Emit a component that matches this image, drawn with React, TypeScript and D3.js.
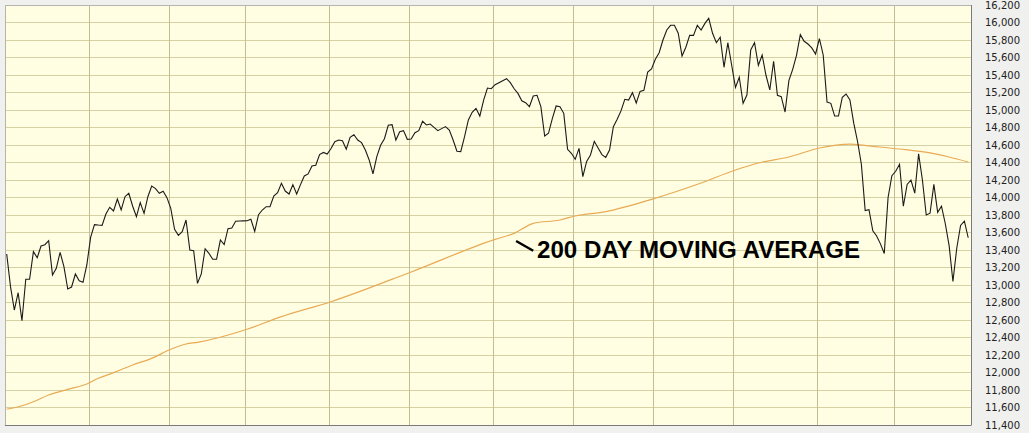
import React from 'react';
import * as d3 from 'd3';

const W = 1029;
const H = 433;

// Right-hand axis ticks
const yTicks: number[] = d3.range(11400, 16201, 200);

// First trading day index of each month (vertical grid lines)
const monthStarts: number[] = [22, 43, 63, 85, 106, 128, 149, 170, 191, 213, 233];

// Daily closing values, trading day 0..252
const priceValues: number[] = [
  13354, 12981, 12714, 12912, 12592, 13065, 13065, 13381, 13312, 13446,
  13461, 13507, 13114, 13191, 13374, 13209, 12954, 12977, 13126, 13049,
  13031, 13229, 13545, 13689, 13685, 13682, 13811, 13888, 13846, 13983,
  13857, 14009, 14048, 13903, 13781, 13941, 13819, 14009, 14131, 14101,
  14048, 14071, 13998, 13876, 13636, 13568, 13609, 13743, 13400, 13392,
  13019, 13126, 13415, 13362, 13294, 13294, 13514, 13461, 13643, 13651,
  13728, 13731, 13733, 13735, 13751, 13613, 13803, 13857, 13895, 13895,
  14017, 14055, 14162, 14074, 14040, 14147, 14040, 14147, 14246, 14269,
  14360, 14368, 14490, 14515, 14497, 14560, 14638, 14657, 14649, 14551,
  14688, 14718, 14657, 14627, 14543, 14429, 14269, 14467, 14597, 14672,
  14825, 14832, 14657, 14752, 14764, 14665, 14669, 14741, 14764, 14871,
  14829, 14840, 14802, 14764, 14787, 14810, 14771, 14657, 14528, 14524,
  14695, 14886, 14974, 15019, 14931, 15114, 15251, 15243, 15289, 15312,
  15335, 15358, 15312, 15243, 15190, 15106, 15083, 15038, 15160, 15168,
  15038, 14703, 14734, 14901, 15046, 15038, 14962, 14551, 14505, 14436,
  14562, 14238, 14413, 14486, 14642, 14566, 14490, 14459, 14543, 14810,
  14894, 14990, 15122, 15114, 15198, 15080, 15213, 15225, 15434, 15470,
  15579, 15655, 15800, 15914, 15968, 15968, 15877, 15617, 15717, 15853,
  15853, 15968, 15914, 15990, 16048, 15877, 15769, 15831, 15488, 15769,
  15514, 15259, 15374, 15076, 15171, 15686, 15769, 15511, 15629, 15397,
  15229, 15557, 15168, 15152, 14977, 15335, 15465, 15625, 15861, 15785,
  15754, 15709, 15640, 15815, 15629, 15091, 15076, 14931, 14931, 15145,
  15183, 15114, 14850, 14640, 14380, 13850, 13860, 13620, 13560, 13470,
  13360, 14000, 14250, 14300, 14380, 13900, 14150, 14200, 14050, 14500,
  14200, 13800, 13820, 14150, 13830, 13900, 13700, 13450, 13040, 13420,
  13680, 13730, 13540,
];

// 200-day moving average, read at selected trading days
const maDays: number[] = [
  0, 4, 7, 11, 16, 21, 24, 28, 33, 38, 43, 47, 50, 63, 72, 85, 106, 128, 133,
  138, 145, 149, 157, 169, 182, 191, 197, 205, 213, 221, 226, 234, 242, 247, 252,
];
const maValues: number[] = [
  11580, 11620, 11666, 11743, 11808, 11869, 11934, 11998, 12086, 12162, 12265,
  12326, 12345, 12494, 12638, 12809, 13149, 13522, 13590, 13705, 13743, 13789,
  13838, 13979, 14166, 14314, 14394, 14463, 14566, 14611, 14589, 14554, 14509,
  14463, 14406,
];

const annotationText = '200 DAY MOVING AVERAGE';

export default function App() {
  const left = 5;
  const right = 971;
  const top = 5;
  const bottom = 425;

  const x = d3.scaleLinear().domain([0, priceValues.length - 1]).range([6.7, 968.2]);
  const y = d3.scaleLinear().domain([11400, 16200]).range([bottom, top]);

  const priceLine = d3
    .line<number>()
    .x((_, i) => x(i))
    .y((d) => y(d));

  const maLine = d3
    .line<number>()
    .x((_, i) => x(maDays[i]))
    .y((d) => y(d))
    .curve(d3.curveMonotoneX);

  return (
    <div style={{ position: 'absolute', left: 0, top: 0 }}>
      <svg width={W} height={H} style={{ display: 'block' }}>
        <rect x={0} y={0} width={W} height={H} fill="#f0f0ee" />
        <rect x={left} y={top} width={right - left} height={bottom - top} fill="#fffee2" />
        {yTicks.map((t) => (
          <line
            key={'h' + t}
            x1={left}
            x2={right}
            y1={y(t)}
            y2={y(t)}
            stroke="#d6d1a2"
            strokeWidth={1}
            shapeRendering="crispEdges"
          />
        ))}
        {monthStarts.map((m) => (
          <line
            key={'v' + m}
            x1={x(m - 0.4)}
            x2={x(m - 0.4)}
            y1={top}
            y2={bottom}
            stroke="#c2bd94"
            strokeWidth={1}
            shapeRendering="crispEdges"
          />
        ))}
        <path d={maLine(maValues) || ''} fill="none" stroke="#e8aa55" strokeWidth={1.2} />
        <path d={priceLine(priceValues) || ''} fill="none" stroke="#1a1a1a" strokeWidth={1.1} />
        <rect
          x={left}
          y={top}
          width={right - left}
          height={bottom - top}
          fill="none"
          stroke="#b4b4b0"
          strokeWidth={1}
          shapeRendering="crispEdges"
        />
        <line x1={right} x2={right} y1={top} y2={bottom} stroke="#7a7a7a" strokeWidth={1} shapeRendering="crispEdges" />
        <line x1={left} x2={right} y1={bottom} y2={bottom} stroke="#7a7a7a" strokeWidth={1} shapeRendering="crispEdges" />
        {yTicks.map((t) => (
          <text
            key={'l' + t}
            x={985}
            y={y(t)}
            dy="0.35em"
            fontFamily="'DejaVu Sans', Verdana, sans-serif"
            fontSize={10}
            fill="#222"
          >
            {d3.format(',')(t)}
          </text>
        ))}
        <line
          x1={x(133.5)}
          y1={y(13503)}
          x2={x(138)}
          y2={y(13392)}
          stroke="#000"
          strokeWidth={2.4}
        />
        <text
          x={x(139)}
          y={y(13304)}
          fontFamily="'Liberation Sans', Arial, sans-serif"
          fontWeight="bold"
          fontSize={24}
          textLength={323}
          lengthAdjust="spacingAndGlyphs"
          fill="#000"
        >
          {annotationText}
        </text>
      </svg>
    </div>
  );
}
